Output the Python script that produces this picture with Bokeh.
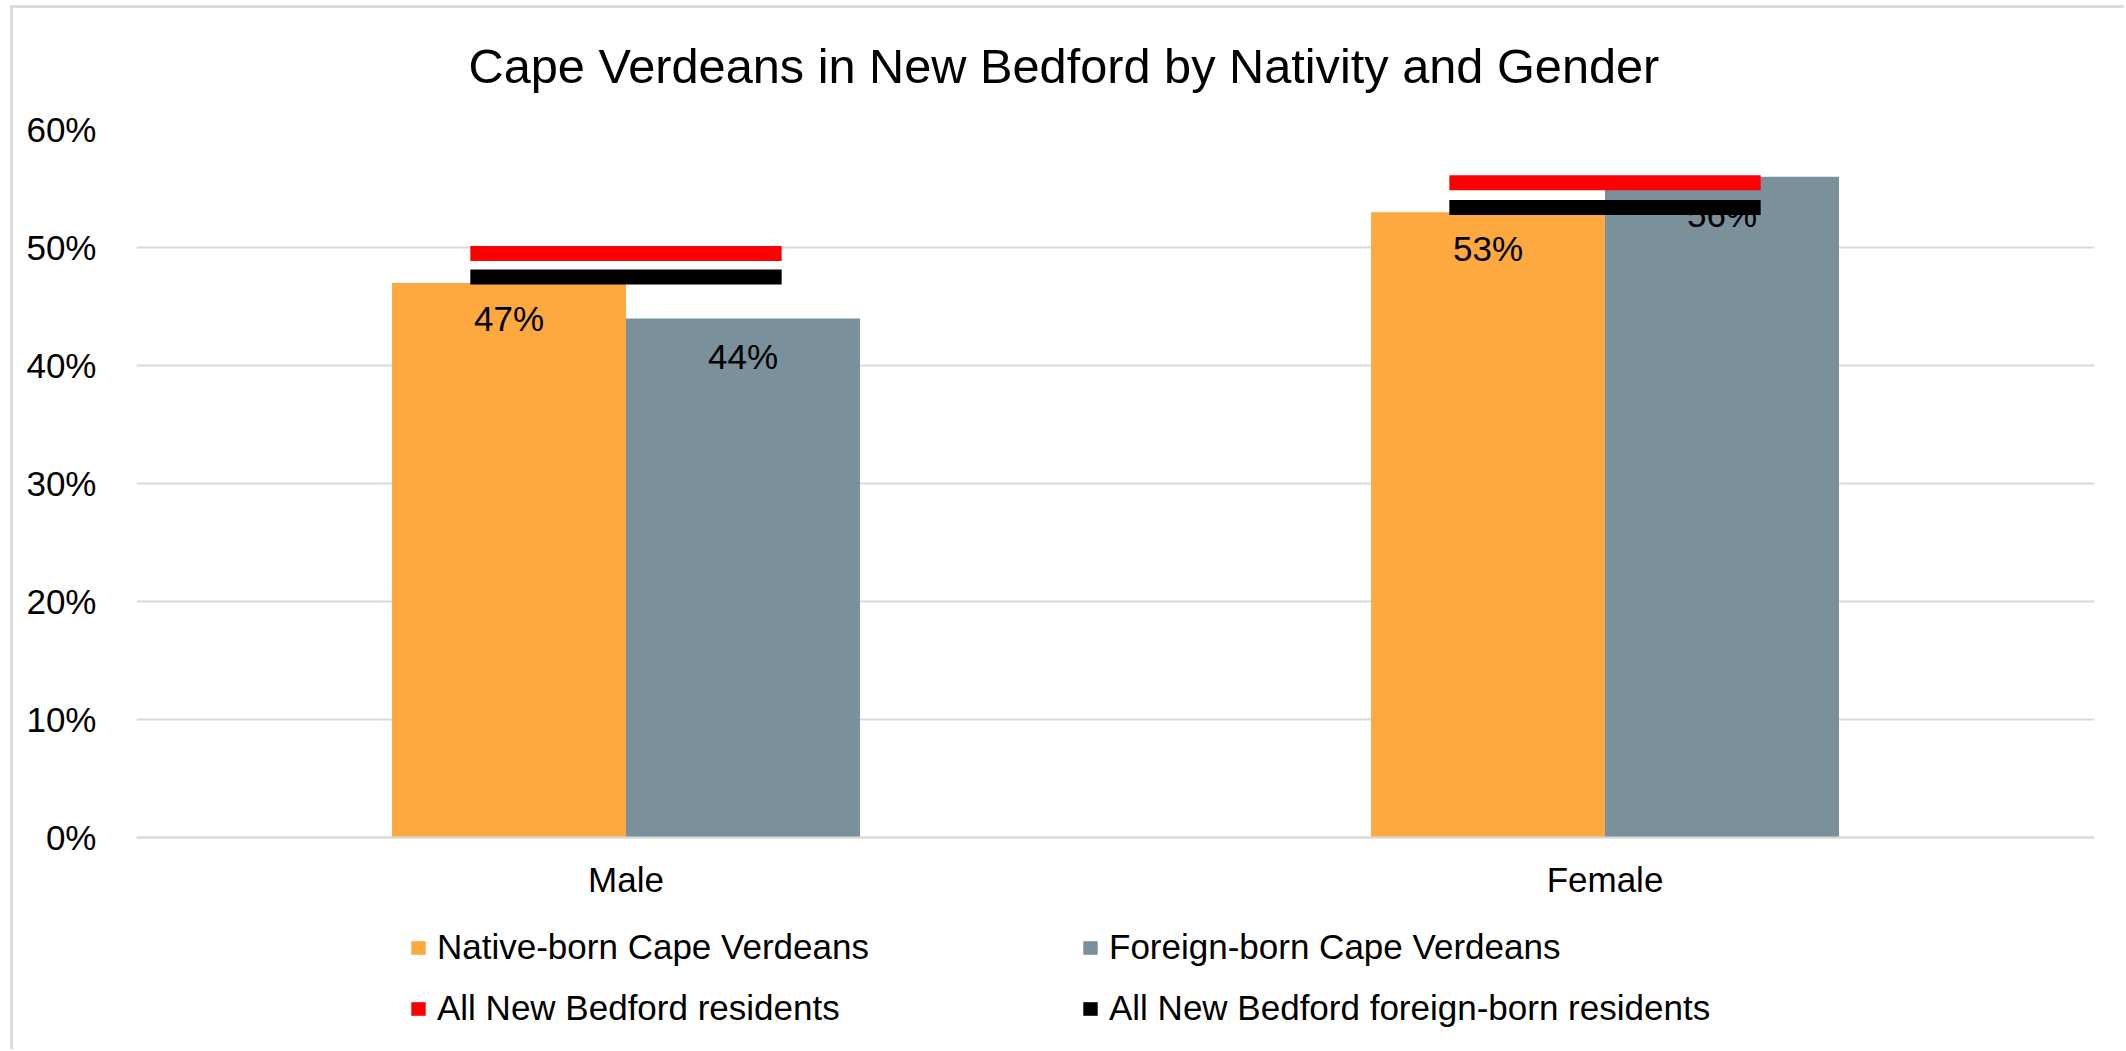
from bokeh.plotting import figure
from bokeh.models import (FactorRange, Range1d, ColumnDataSource, Legend, LegendItem,
                          NumeralTickFormatter, FixedTicker)
from bokeh.transform import dodge
from bokeh.core.properties import value
from bokeh.embed import file_html
from bokeh.resources import INLINE

# ---- data ----
genders = ["Male", "Female"]
native_born = [0.47, 0.53]
foreign_born = [0.44, 0.56]
all_residents = [0.495, 0.555]
all_foreign_born = [0.475, 0.534]
native_labels = ["47%", "53%"]
foreign_labels = ["44%", "56%"]
y_ticks = [0.0, 0.1, 0.2, 0.3, 0.4, 0.5, 0.6]
series_names = ["Native-born Cape Verdeans", "Foreign-born Cape Verdeans",
                "All New Bedford residents", "All New Bedford foreign-born residents"]
title_text = "Cape Verdeans in New Bedford by Nativity and Gender"

FONT = "Liberation Sans"
ORANGE = "#FDA940"
GREY = "#7A909A"
GRID = "#D9D9D9"

src = ColumnDataSource(dict(gender=genders, native=native_born, foreign=foreign_born,
                            allres=all_residents, allfb=all_foreign_born,
                            nlab=native_labels, flab=foreign_labels))

# frame runs from the 60% line down to the bottom of the canvas; the part below 0
# holds the category labels and the legend
Y_TOP = 0.6
Y_BOTTOM = -0.6 * 212 / 710

p = figure(x_range=FactorRange(*genders), y_range=Range1d(Y_BOTTOM, Y_TOP),
           width=2124, height=1049, output_backend="svg", toolbar_location=None,
           min_border_left=136, min_border_right=30, min_border_top=127,
           min_border_bottom=0)
# light grey chart-area border (top and left edges), painted behind a transparent canvas
p.border_fill_color = None
p.styles = {
    "overflow": "hidden",
    "background": ("linear-gradient(#DCDCDC, #DCDCDC) 10px 5px / 3px 2000px no-repeat, "
                   "linear-gradient(#DCDCDC, #DCDCDC) 10px 5px / 3000px 3px no-repeat, "
                   "#FFFFFF"),
}

BAR_W = 0.239
r_nat = p.vbar(x=dodge("gender", -BAR_W / 2, range=p.x_range), top="native", width=BAR_W,
               source=src, fill_color=ORANGE, line_color=None)
r_for = p.vbar(x=dodge("gender", BAR_W / 2, range=p.x_range), top="foreign", width=BAR_W,
               source=src, fill_color=GREY, line_color=None)

p.text(x=dodge("gender", -BAR_W / 2, range=p.x_range), y="native", text="nlab", source=src,
       text_align="center", text_baseline="middle", y_offset=36,
       text_font=value(FONT), text_font_size="35px", text_color="black")
p.text(x=dodge("gender", BAR_W / 2, range=p.x_range), y="foreign", text="flab", source=src,
       text_align="center", text_baseline="middle", y_offset=38,
       text_font=value(FONT), text_font_size="35px", text_color="black")

r_all = p.rect(x="gender", y="allres", width=0.318, height=15, height_units="screen",
               source=src, fill_color="#FF0000", line_color=None)
r_afb = p.rect(x="gender", y="allfb", width=0.318, height=15, height_units="screen",
               source=src, fill_color="#000000", line_color=None)

# ---- title ----
p.title.text = title_text
p.title.align = "left"
p.title.offset = 332
p.title.standoff = 73
p.title.text_font = FONT
p.title.text_font_size = "48.7px"
p.title.text_font_style = "normal"
p.title.text_color = "black"

# ---- axes / grid ----
p.outline_line_color = None
p.xgrid.visible = False
p.ygrid.grid_line_color = GRID
p.ygrid.grid_line_width = 2
p.yaxis.ticker = FixedTicker(ticks=y_ticks)
p.yaxis.formatter = NumeralTickFormatter(format="0%")
p.yaxis.axis_line_color = None
p.yaxis.major_tick_line_color = None
p.yaxis.minor_tick_line_color = None
p.yaxis.major_label_standoff = 34
p.yaxis.major_label_text_font = FONT
p.yaxis.major_label_text_font_size = "35px"
p.yaxis.major_label_text_color = "black"

p.xaxis.fixed_location = 0
p.xaxis.axis_line_color = GRID
p.xaxis.axis_line_width = 2
p.xaxis.major_tick_line_color = None
p.xaxis.minor_tick_line_color = None
p.xaxis.major_label_standoff = 16
p.xaxis.major_label_text_font = FONT
p.xaxis.major_label_text_font_size = "35px"
p.xaxis.major_label_text_color = "black"

# ---- legend ----
legend = Legend(items=[LegendItem(label=series_names[0], renderers=[r_nat]),
                       LegendItem(label=series_names[1], renderers=[r_for]),
                       LegendItem(label=series_names[2], renderers=[r_all]),
                       LegendItem(label=series_names[3], renderers=[r_afb])],
                orientation="horizontal", ncols=2,
                location=(273, 21), padding=0, margin=0, spacing=21,
                glyph_width=18, glyph_height=17, label_standoff=10, label_width=623,
                label_text_font=FONT, label_text_font_size="35px", label_text_color="black",
                border_line_color=None, background_fill_alpha=0)
p.add_layout(legend, "center")

open("out.html", "w").write(file_html(p, INLINE))
